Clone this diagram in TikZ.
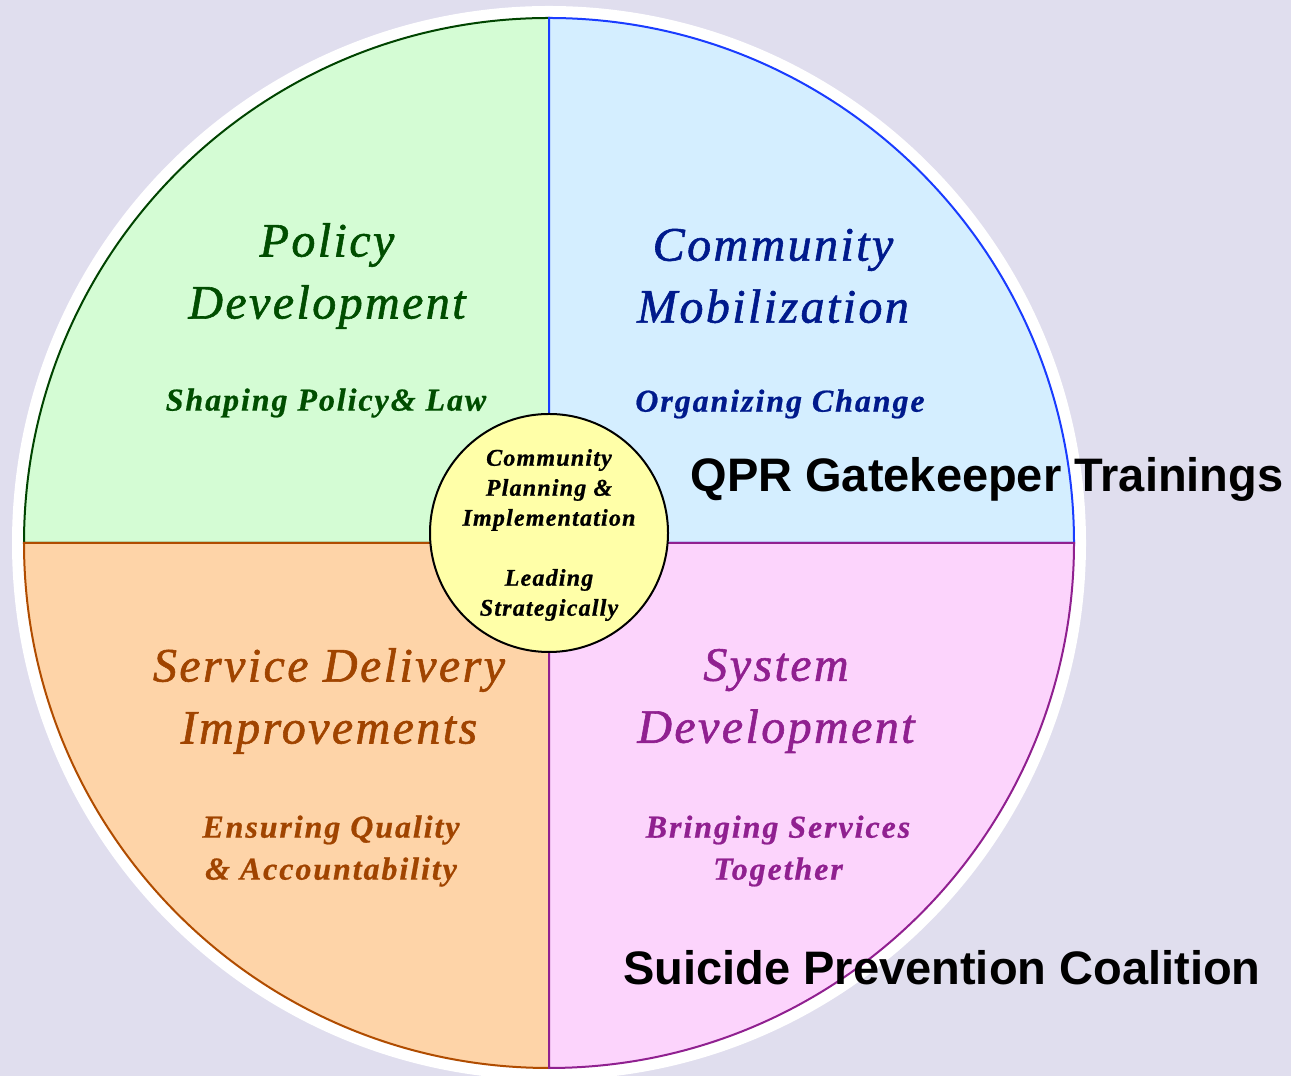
\documentclass[tikz,border=0pt]{standalone}
\usepackage{fontspec}
\setmainfont{Liberation Serif}
\newfontfamily\titlefont[LetterSpace=5,FakeBold=1.2]{Liberation Serif}
\newfontfamily\subfont[LetterSpace=6,FakeBold=0.6]{Liberation Serif}
\newfontfamily\midfont[LetterSpace=5,FakeBold=0.8]{Liberation Serif}
\newfontfamily\labfont{Liberation Sans}
\definecolor{bgc}{HTML}{E0DEEE}
\definecolor{gfill}{HTML}{D4FCD4}
\definecolor{gline}{HTML}{004400}
\definecolor{gtext}{HTML}{004D00}
\definecolor{bfill}{HTML}{D4EEFF}
\definecolor{bline}{HTML}{1A3CFF}
\definecolor{btext}{HTML}{001A8C}
\definecolor{ofill}{HTML}{FED4A8}
\definecolor{oline}{HTML}{B04C00}
\definecolor{otext}{HTML}{A04400}
\definecolor{pfill}{HTML}{FCD4FC}
\definecolor{pline}{HTML}{902090}
\definecolor{ptext}{HTML}{902090}
\definecolor{yfill}{HTML}{FFFFA8}
\tikzset{
  quad/.style={line width=2pt},
  title/.style={align=center, inner sep=0pt, font=\titlefont\itshape\fontsize{48}{62}\selectfont},
  subtitle/.style={align=center, inner sep=0pt, font=\subfont\bfseries\itshape\fontsize{32}{42}\selectfont},
  midtext/.style={align=center, inner sep=0pt, font=\midfont\bfseries\itshape\fontsize{24}{30}\selectfont},
  bigtext/.style={inner sep=0pt, font=\labfont\bfseries\fontsize{47}{50}\selectfont},
}
\begin{document}
\begin{tikzpicture}[x=1pt,y=1pt]
\fill[bgc] (0,0) rectangle (1291,1076);
\useasboundingbox (0,0) rectangle (1291,1076);
\coordinate (C) at (549,533);
\fill[white] (C) circle (537);
% quadrants
\filldraw[quad, fill=gfill, draw=gline] (C) -- (24,533) arc (180:90:525) -- cycle;
\filldraw[quad, fill=bfill, draw=bline] (C) -- (549,1058) arc (90:0:525) -- cycle;
\filldraw[quad, fill=ofill, draw=oline] (C) -- (24,533) arc (180:270:525) -- cycle;
\filldraw[quad, fill=pfill, draw=pline] (C) -- (549,8) arc (270:360:525) -- cycle;
% centre circle
\node[circle, draw=black, line width=2pt, fill=yfill, minimum size=238pt, inner sep=0pt] (hub) at (549,543) {};
\node[midtext] (hubtext) at (549,541) {Community\\Planning \&\\Implementation\\[30pt]Leading\\Strategically};
% titles
\node[title, text=gtext] (policy) at (327,800) {Policy\\Development};
\node[subtitle, text=gtext] (policysub) at (326,673) {Shaping Policy\& Law};
\node[title, text=btext] (community) at (773,800) {Community\\Mobilization};
\node[subtitle, text=btext] (communitysub) at (780,672) {Organizing Change};
\node[title, text=otext] (service) at (329,375) {Service Delivery\\Improvements};
\node[subtitle, text=otext] (servicesub) at (331,225) {Ensuring Quality\\\& Accountability};
\node[title, text=ptext] (system) at (776,375) {System\\Development};
\node[subtitle, text=ptext] (systemsub) at (778,225) {Bringing Services\\Together};
% labels
\node[bigtext] (qpr) at (987,597) {QPR Gatekeeper Trainings};
\node[bigtext] (spc) at (942,108) {Suicide Prevention Coalition};
\end{tikzpicture}
\end{document}
